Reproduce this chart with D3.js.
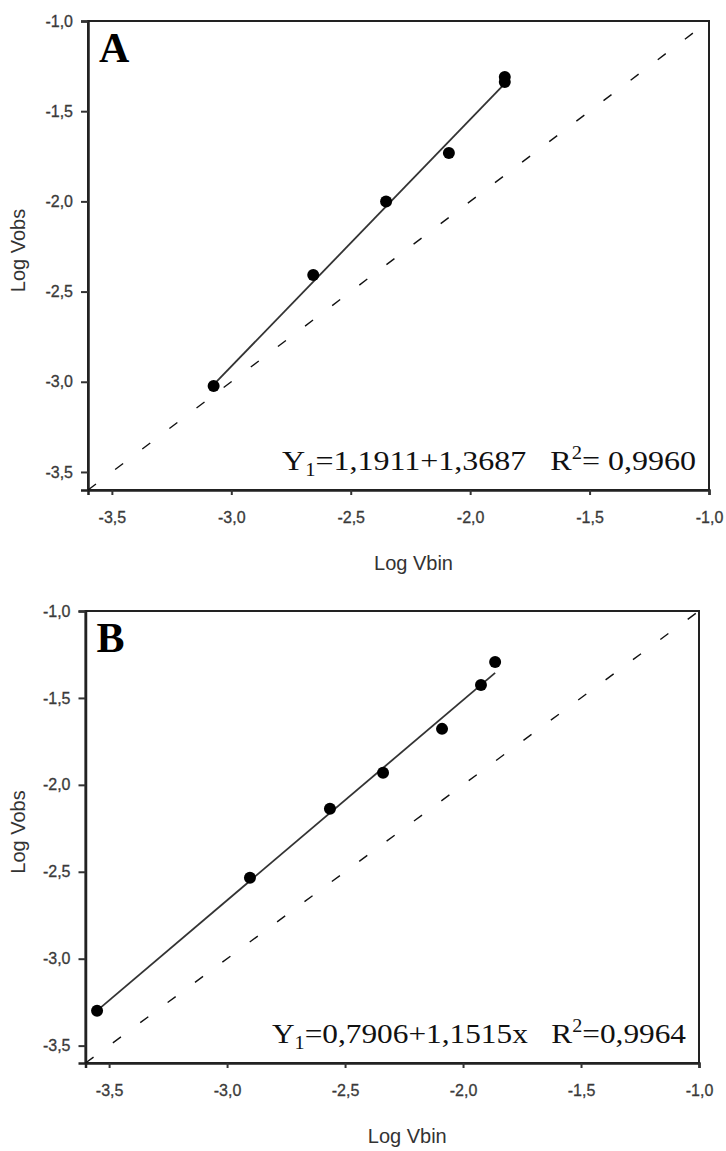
<!DOCTYPE html>
<html>
<head>
<meta charset="utf-8">
<script src="https://cdn.jsdelivr.net/npm/d3@7"></script>
<style>
  body { margin: 0; background: #fff; }
  svg { display: block; }
  .tick text { font-family: "Liberation Sans", Arial, sans-serif; font-size: 16px; fill: #3a3a3a; stroke: #3a3a3a; stroke-width: 0.3px; }
  .axis-title { font-family: "Liberation Sans", Arial, sans-serif; font-size: 20px; fill: #333; }
  .eq { font-family: "Liberation Serif", "Times New Roman", serif; font-size: 28px; fill: #111; white-space: pre; }
  .letter { font-family: "Liberation Serif", "Times New Roman", serif; font-size: 42px; font-weight: bold; fill: #000; }
</style>
</head>
<body>
<svg id="chart" width="726" height="1151"></svg>
<script>
// tick values shared by both panels
var tickVals = [-3.5, -3.0, -2.5, -2.0, -1.5, -1.0];
var domainLo = -3.6, domainHi = -1.0;

// panel A
var aVbin = [-3.074, -2.657, -2.352, -2.089, -1.855, -1.855];
var aVobs = [-3.023, -2.408, -2.000, -1.732, -1.310, -1.338];
var aFit = [1.1911, 1.3687];

// panel B
var bVbin = [-3.551, -2.903, -2.564, -2.339, -2.089, -1.924, -1.864];
var bVobs = [-3.299, -2.534, -2.138, -1.931, -1.678, -1.425, -1.293];
var bFit = [0.7906, 1.1515];

var svg = d3.select("#chart");
var fmt = function(d) { return d3.format(".1f")(d).replace(".", ",").replace("−", "-"); };

function drawPanel(opt) {
  var x = d3.scaleLinear().domain([domainLo, domainHi]).range([opt.left, opt.right]);
  var y = d3.scaleLinear().domain([domainLo, domainHi]).range([opt.bottom, opt.top]);
  var g = svg.append("g");

  // frame
  g.append("rect")
    .attr("x", opt.left).attr("y", opt.top)
    .attr("width", opt.right - opt.left).attr("height", opt.bottom - opt.top)
    .attr("fill", "none").attr("stroke", "#222").attr("stroke-width", 2);

  // axes
  var xa = g.append("g").attr("transform", "translate(0," + opt.bottom + ")")
    .call(d3.axisBottom(x).tickValues(tickVals).tickFormat(fmt).tickSize(5).tickPadding(17));
  var ya = g.append("g").attr("transform", "translate(" + opt.left + ",0)")
    .call(d3.axisLeft(y).tickValues(tickVals).tickFormat(fmt).tickSize(7).tickPadding(8));
  [xa, ya].forEach(function(a) {
    a.select(".domain").attr("stroke", "#222").attr("stroke-width", 2.5);
    a.selectAll(".tick line").attr("stroke", "#333").attr("stroke-width", 2);
  });

  // 1:1 dashed line
  g.append("line")
    .attr("x1", x(domainLo)).attr("y1", y(domainLo))
    .attr("x2", x(domainHi)).attr("y2", y(domainHi))
    .attr("stroke", "#111").attr("stroke-width", 1.4)
    .attr("stroke-dasharray", "10,24");

  // regression line
  var xs = d3.extent(opt.vbin);
  g.append("line")
    .attr("x1", x(xs[0])).attr("y1", y(opt.fit[0] + opt.fit[1] * xs[0]))
    .attr("x2", x(xs[1])).attr("y2", y(opt.fit[0] + opt.fit[1] * xs[1]))
    .attr("stroke", "#333").attr("stroke-width", 1.8);

  // points
  g.selectAll("circle.pt").data(opt.vbin).enter().append("circle")
    .attr("class", "pt")
    .attr("cx", function(d) { return x(d); })
    .attr("cy", function(d, i) { return y(opt.vobs[i]); })
    .attr("r", 6).attr("fill", "#000");

  // panel letter
  g.append("text").attr("class", "letter")
    .attr("x", opt.left + 11).attr("y", opt.top + 41).text(opt.letter);

  // equation (stretched a bit wider like the original)
  var t = g.append("text").attr("class", "eq")
    .attr("x", opt.right - 13).attr("y", opt.bottom - 20)
    .attr("text-anchor", "end")
    .attr("textLength", 414).attr("lengthAdjust", "spacingAndGlyphs");
  t.append("tspan").text("Y");
  t.append("tspan").attr("font-size", "18px").attr("dy", 6).text("1");
  t.append("tspan").attr("dy", -6).text(opt.eq1);
  t.append("tspan").attr("font-size", "18px").attr("dy", -11).text("2");
  t.append("tspan").attr("dy", 11).text(opt.eq2);

  // axis titles
  g.append("text").attr("class", "axis-title")
    .attr("x", (opt.left + opt.right) / 2 + 15).attr("y", opt.bottom + 80)
    .attr("text-anchor", "middle").text("Log Vbin");
  g.append("text").attr("class", "axis-title")
    .attr("transform", "translate(25," + ((opt.top + opt.bottom) / 2 - 5) + ") rotate(-90)")
    .attr("text-anchor", "middle").text("Log Vobs");
}

drawPanel({
  left: 88, right: 709, top: 21, bottom: 490,
  vbin: aVbin, vobs: aVobs, fit: aFit, letter: "A",
  eq1: "=1,1911+1,3687   R", eq2: "= 0,9960"
});

drawPanel({
  left: 85.5, right: 699, top: 611, bottom: 1063,
  vbin: bVbin, vobs: bVobs, fit: bFit, letter: "B",
  eq1: "=0,7906+1,1515x   R", eq2: "=0,9964"
});
</script>
</body>
</html>
